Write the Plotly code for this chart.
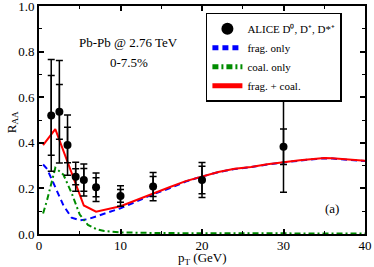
import plotly.graph_objects as go

# ALICE data
pt_data = [1.5, 2.5, 3.5, 4.5, 5.5, 7, 10, 14, 20, 30]
raa_data = [0.52, 0.536, 0.39, 0.251, 0.237, 0.205, 0.167, 0.208, 0.237, 0.383]
err_outer = [0.245, 0.225, 0.132, 0.064, 0.07, 0.062, 0.045, 0.062, 0.077, 0.2]
err_inner = [0.175, 0.12, 0.078, 0.035, 0.05, 0.042, 0.028, 0.044, 0.06, 0.078]

# frag. + coal.
pt_total = [0.5, 2.0, 5.5, 7, 10, 12, 14, 16, 18, 20, 22, 24, 26, 28, 30, 32, 34, 35, 36, 38, 40]
raa_total = [0.39, 0.46, 0.125, 0.098, 0.122, 0.15, 0.18, 0.205, 0.232, 0.253, 0.272, 0.286,
             0.294, 0.306, 0.316, 0.323, 0.33, 0.333, 0.332, 0.326, 0.321]

# frag. only
pt_frag = [0.5, 1, 2, 3, 4, 5, 6, 7, 8, 10, 12, 14, 16, 18, 20, 22, 24, 26, 28, 30, 32, 34, 35, 36, 38, 40]
raa_frag = [0.305, 0.285, 0.205, 0.125, 0.072, 0.06, 0.065, 0.077, 0.09, 0.113, 0.143, 0.175, 0.2,
            0.23, 0.252, 0.271, 0.285, 0.293, 0.305, 0.315, 0.322, 0.329, 0.332, 0.331, 0.325, 0.32]

# coal. only
pt_coal = [0.5, 1, 2, 3, 4, 5, 6, 7, 8, 10, 15, 20, 30, 40]
raa_coal = [0.09, 0.15, 0.29, 0.26, 0.18, 0.085, 0.04, 0.022, 0.013, 0.007, 0.004, 0.003, 0.002, 0.002]

FONT = "Liberation Serif, Times New Roman, serif"

fig = go.Figure()
fig.add_trace(go.Scatter(x=pt_frag, y=raa_frag, mode="lines", name="frag. only", legendrank=2,
                         line=dict(color="#0000ff", width=2, dash="6px,4px")))
fig.add_trace(go.Scatter(x=pt_coal, y=raa_coal, mode="lines", name="coal. only", legendrank=3,
                         line=dict(color="#008c00", width=2, dash="6px,3px,2px,3px")))
fig.add_trace(go.Scatter(x=pt_total, y=raa_total, mode="lines", name="frag. + coal.", legendrank=4,
                         line=dict(color="#ff0000", width=2)))
fig.add_trace(go.Scatter(x=pt_data, y=raa_data, mode="markers", showlegend=False,
                         marker=dict(size=1, color="rgba(0,0,0,0)"),
                         error_y=dict(type="data", array=err_inner, color="black",
                                      thickness=1.5, width=3.5)))
fig.add_trace(go.Scatter(x=pt_data, y=raa_data, mode="markers", legendrank=1,
                         name="ALICE D\u2070, D\u207a, D*\u207a",
                         marker=dict(size=8, color="black"),
                         error_y=dict(type="data", array=err_outer, color="black",
                                      thickness=1.5, width=3.5)))

fig.add_annotation(x=11.0, y=0.838, text="Pb-Pb @ 2.76 TeV", showarrow=False,
                   font=dict(family=FONT, size=13, color="black"))
fig.add_annotation(x=11.0, y=0.754, text="0-7.5%", showarrow=False,
                   font=dict(family=FONT, size=13, color="black"))
fig.add_annotation(x=35.9, y=0.11, text="(a)", showarrow=False,
                   font=dict(family=FONT, size=13, color="black"))
# axis titles
fig.add_annotation(xref="paper", yref="paper", x=0.5, y=-0.108, xanchor="center", yanchor="middle",
                   text="p<sub>T</sub> (GeV)",
                   showarrow=False, font=dict(family=FONT, size=13, color="black"))
fig.add_annotation(xref="paper", yref="paper", x=-0.083, y=0.49, xanchor="center", yanchor="middle",
                   text="R<sub>AA</sub>",
                   textangle=-90, showarrow=False, font=dict(family=FONT, size=13, color="black"))

axis_common = dict(showline=True, linecolor="black", linewidth=2, mirror="allticks",
                   ticks="inside", ticklen=5, tickwidth=1.5, tickcolor="black",
                   showgrid=False, zeroline=False, automargin=False,
                   ticklabeloverflow="allow",
                   tickfont=dict(family=FONT, size=13, color="black"))

fig.update_xaxes(range=[0, 40], tickvals=[0, 10, 20, 30, 40], ticklabelstandoff=-2,
                 minor=dict(ticks="inside", ticklen=3, tickwidth=1.2, tickcolor="black", dtick=5),
                 **axis_common)
fig.update_yaxes(range=[0, 1.0], tickvals=[0, 0.2, 0.4, 0.6, 0.8, 1.0], tickformat=".1f",
                 minor=dict(ticks="inside", ticklen=3, tickwidth=1.2, tickcolor="black", dtick=0.1),
                 **axis_common)

fig.update_layout(
    width=374, height=267,
    margin=dict(l=39, r=9, t=6, b=33, autoexpand=False),
    plot_bgcolor="white", paper_bgcolor="white",
    font=dict(family=FONT, size=13, color="black"),
    legend=dict(x=0.512, y=0.97, xanchor="left", yanchor="top",
                bordercolor="black", borderwidth=1.5, bgcolor="white",
                font=dict(family=FONT, size=11, color="black"),
                traceorder="normal", itemwidth=30, tracegroupgap=0,
                itemsizing="constant"),
)

fig.write_html("out.html", config={"displayModeBar": False},
               post_script="document.body.style.margin='0';")
